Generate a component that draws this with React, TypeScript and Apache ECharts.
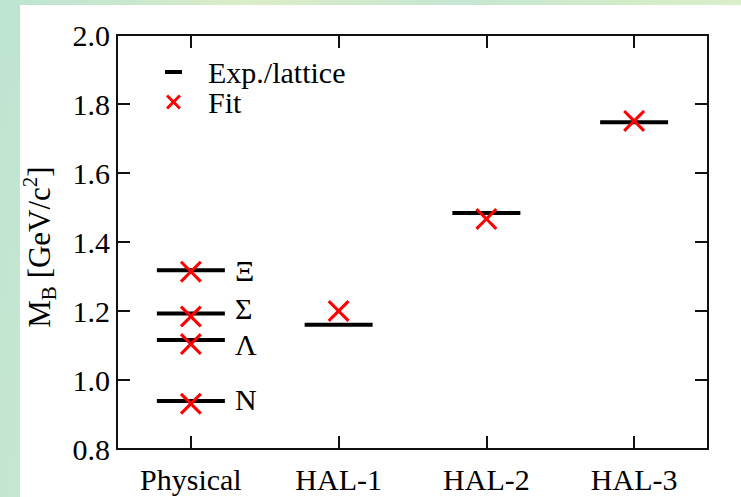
import React, { useEffect, useRef } from "react";
import * as echarts from "echarts";

// Baryon masses (GeV/c^2) for the physical point and three HAL QCD ensembles
const categories = ["Physical", "HAL-1", "HAL-2", "HAL-3"];
const baryons = ["N", "Λ", "Σ", "Ξ"];
const expPhysical = [0.939, 1.116, 1.193, 1.318];
const fitPhysical = [0.931, 1.104, 1.184, 1.314];
const expHal = [1.16, 1.484, 1.747];
const fitHal = [1.2, 1.467, 1.751];
const yMin = 0.8;
const yMax = 2.0;
const yStep = 0.2;

const SERIF = "'Liberation Serif', 'Times New Roman', serif";
const FS = 30;

// small vertical nudges so the baryon names do not collide
const labelNudge: Record<string, number> = { N: -2, "Λ": 5, "Σ": -5, "Ξ": 0 };

// X marker (22 x 22) drawn as a filled outline
const crossPath =
  "path://M0,2.2L2.2,0L11,8.8L19.8,0L22,2.2L13.2,11L22,19.8L19.8,22L11,13.2L2.2,22L0,19.8L8.8,11Z";
// legend icons: a 38x17 box with the glyph in its left part
const legendDash = "path://M0,0M38,17M0,6.5L17,6.5L17,10.5L0,10.5Z";
const legendCross =
  "path://M0,0M38,17M1,3.1L3.1,1L8.5,6.4L13.9,1L16,3.1L10.6,8.5L16,13.9L13.9,16L8.5,10.6L3.1,16L1,13.9L6.4,8.5Z";

export default function App() {
  const ref = useRef<HTMLDivElement>(null);

  useEffect(() => {
    if (!ref.current) return;
    const chart = echarts.init(ref.current, undefined, { renderer: "svg" });

    const expData = [
      ...expPhysical.map((v, i) => ({
        value: [categories[0], v],
        name: baryons[i],
        label: {
          show: true,
          position: "right",
          distance: 10,
          offset: [0, labelNudge[baryons[i]] ?? 0],
          formatter: "{b}",
          color: "#000",
          fontFamily: SERIF,
          fontSize: FS,
        },
      })),
      ...expHal.map((v, i) => ({ value: [categories[i + 1], v] })),
    ];
    const fitData = [
      ...fitPhysical.map((v) => [categories[0], v]),
      ...fitHal.map((v, i) => [categories[i + 1], v]),
    ];

    const axisLine = { show: true, lineStyle: { color: "#111", width: 2 } };
    const tick = { show: true, inside: true, length: 13, lineStyle: { color: "#111", width: 2 } };

    chart.setOption({
      animation: false,
      backgroundColor: "transparent",
      textStyle: { fontFamily: SERIF },
      grid: {
        left: 117,
        top: 35,
        right: 33,
        bottom: 48,
        containLabel: false,
        outerBoundsMode: "none",
      },
      legend: {
        orient: "vertical",
        left: 160,
        top: 52,
        itemWidth: 38,
        itemHeight: 17,
        itemGap: 0,
        selectedMode: false,
        textStyle: { fontFamily: SERIF, fontSize: FS, color: "#000", lineHeight: 30 },
        data: [
          { name: "Exp./lattice", icon: legendDash },
          { name: "Fit", icon: legendCross },
        ],
      },
      xAxis: [
        {
          type: "category",
          data: categories,
          position: "bottom",
          boundaryGap: true,
          axisLine,
          axisTick: { ...tick, alignWithLabel: true },
          axisLabel: { color: "#000", fontFamily: SERIF, fontSize: FS, margin: 15 },
          splitLine: { show: false },
        },
        {
          type: "category",
          data: categories,
          position: "top",
          boundaryGap: true,
          axisLine,
          axisTick: { ...tick, alignWithLabel: true },
          axisLabel: { show: false },
          splitLine: { show: false },
        },
      ],
      yAxis: [
        {
          type: "value",
          min: yMin,
          max: yMax,
          interval: yStep,
          position: "left",
          axisLine,
          axisTick: tick,
          splitLine: { show: false },
          axisLabel: {
            color: "#000",
            fontFamily: SERIF,
            fontSize: FS,
            margin: 7,
            formatter: (v: number) => v.toFixed(1),
          },
          name: "{m|M}{sub|B}{m| [GeV/c}{sup|2}{m|]}",
          nameLocation: "middle",
          nameRotate: 90,
          nameGap: 58,
          nameTextStyle: {
            fontFamily: SERIF,
            padding: [0, 10, 0, 0],
            rich: {
              m: { fontFamily: SERIF, fontSize: 31, color: "#000", lineHeight: 40 },
              sub: {
                fontFamily: SERIF,
                fontSize: 21,
                color: "#000",
                lineHeight: 22,
                verticalAlign: "bottom",
              },
              sup: {
                fontFamily: SERIF,
                fontSize: 21,
                color: "#000",
                lineHeight: 18,
                verticalAlign: "top",
              },
            },
          },
        },
        {
          type: "value",
          min: yMin,
          max: yMax,
          interval: yStep,
          position: "right",
          axisLine,
          axisTick: tick,
          axisLabel: { show: false },
          splitLine: { show: false },
        },
      ],
      series: [
        {
          name: "Exp./lattice",
          type: "scatter",
          xAxisIndex: 0,
          yAxisIndex: 0,
          symbol: "rect",
          symbolSize: [68, 4],
          itemStyle: { color: "#000", opacity: 1 },
          data: expData,
          z: 2,
        },
        {
          name: "Fit",
          type: "scatter",
          xAxisIndex: 0,
          yAxisIndex: 0,
          symbol: crossPath,
          symbolSize: 22,
          itemStyle: { color: "#ff0000", opacity: 1 },
          data: fitData,
          z: 3,
        },
      ],
    });

    return () => chart.dispose();
  }, []);

  return (
    <div
      style={{
        position: "fixed",
        left: 0,
        top: 0,
        width: 741,
        height: 497,
        overflow: "hidden",
        background:
          "linear-gradient(100deg, #bde4d2 0%, #c8e8cf 15%, #dcedc6 30%, #c6e7d3 55%, #d2ecc9 75%, #e0efc9 100%)",
      }}
    >
      {/* white slide panel behind the plot */}
      <div
        style={{
          position: "absolute",
          left: 20,
          top: 5,
          width: 721,
          height: 492,
          background: "#ffffff",
        }}
      />
      <div
        ref={ref}
        style={{ position: "absolute", left: 0, top: 0, width: 741, height: 497 }}
      />
    </div>
  );
}
